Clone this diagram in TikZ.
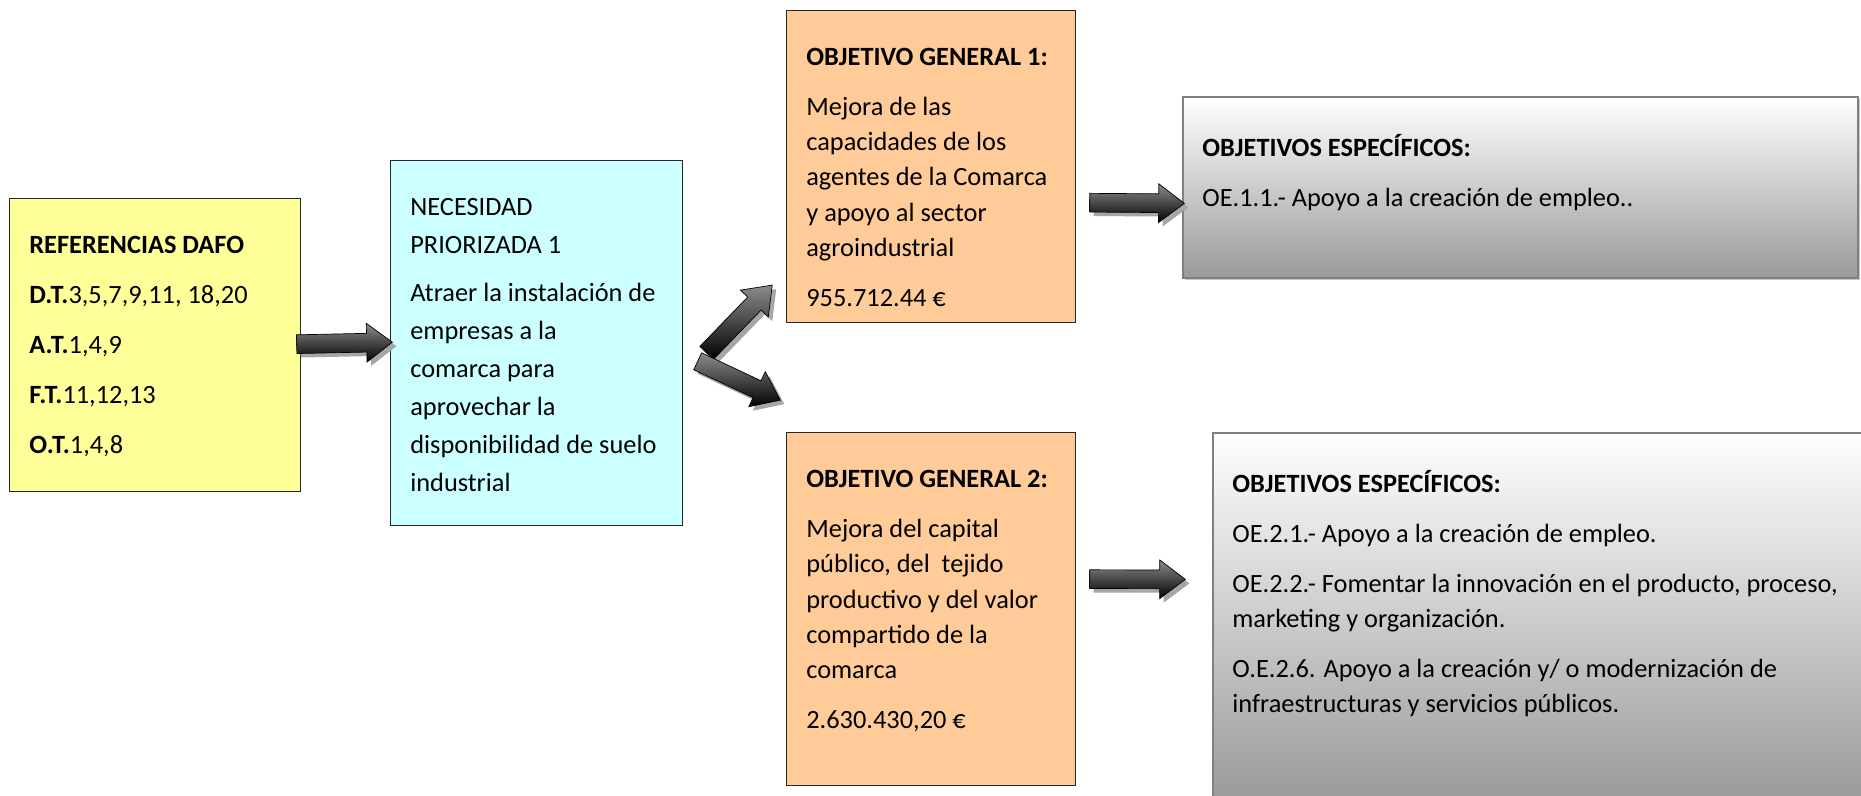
\documentclass[tikz,border=0pt]{standalone}
\usepackage{fontspec}
\setmainfont{Carlito}
\usetikzlibrary{calc,positioning,shapes.arrows,shadows}
\definecolor{dafoyellow}{HTML}{FFFF99}
\definecolor{needcyan}{HTML}{CCFFFF}
\definecolor{goalorange}{HTML}{FFCC99}
\newcommand{\hd}[1]{{\bfseries #1}}
\tikzset{
  box/.style={draw=black!85, line width=0.8pt, anchor=north west, inner sep=0pt},
  specbox/.style={draw=black!50, line width=1pt, anchor=north west, inner sep=0pt, top color=white, bottom color=black!40,
    drop shadow={shadow xshift=0.05cm, shadow yshift=-0.05cm, fill=black!22, opacity=1}},
  txt/.style={anchor=north west, inner sep=0pt, align=left, font=\fontsize{15}{20}\selectfont},
  bigarrow/.style={single arrow, draw=black, line width=0.4pt, inner xsep=0pt, inner ysep=0.18cm, text height=0pt, text depth=0pt,
    minimum width=0pt, single arrow head extend=0.2cm, single arrow tip angle=74, single arrow head indent=0pt,
    top color=black!45, middle color=black!85, bottom color=black, anchor=tail,
    drop shadow={shadow xshift=0.08cm, shadow yshift=-0.08cm, fill=black!35, opacity=1}}}
\newcommand{\blockarrow}[3]{%
  \path let \p1=#2, \p2=#3, \n1={atan2(\y2-\y1,\x2-\x1)}, \n2={veclen(\x2-\x1,\y2-\y1)} in
    node[bigarrow, minimum height=\n2, rotate=\n1] (#1) at (\p1) {};}

\begin{document}
\begin{tikzpicture}[x=0.02cm, y=-0.02cm]
  \useasboundingbox (0,0) rectangle (1861,795);
  \clip (0,0) rectangle (1861,795);
  \node[box, fill=dafoyellow, minimum width=5.82cm, minimum height=5.86cm] (dafo) at (9,198) {};
  \node[box, fill=needcyan, minimum width=5.84cm, minimum height=7.3cm] (nec) at (390,160) {};
  \node[box, fill=goalorange, minimum width=5.78cm, minimum height=6.24cm] (og1) at (786,10) {};
  \node[box, fill=goalorange, minimum width=5.78cm, minimum height=7.06cm] (og2) at (786,432) {};
  \node[specbox, minimum width=13.5cm, minimum height=3.62cm] (oe1) at (1182,96) {};
  \node[specbox, minimum width=13.6cm, minimum height=7.46cm] (oe2) at (1212,432) {};

  \node[txt] (dafotxt) at ([shift={(20,38)}]dafo.north west) {\hd{REFERENCIAS DAFO}\\[8.5pt]
    \hd{D.T.}3,5,7,9,11, 18,20\\[8.5pt] \hd{A.T.}1,4,9\\[8.5pt] \hd{F.T.}11,12,13\\[8.5pt] \hd{O.T.}1,4,8};
  \node[txt, font=\fontsize{15}{21.6}\selectfont] (nectxt) at ([shift={(20,38)}]nec.north west) {NECESIDAD\\ PRIORIZADA 1\\[6pt]
    Atraer la instalación de\\ empresas a la\\ comarca para\\ aprovechar la\\ disponibilidad de suelo\\ industrial};
  \node[txt] (og1txt) at ([shift={(20,38)}]og1.north west) {\hd{OBJETIVO GENERAL 1:}\\[8.5pt]
    Mejora de las\\ capacidades de los\\ agentes de la Comarca\\ y apoyo al sector\\ agroindustrial\\[8.5pt] 955.712.44 €};
  \node[txt] (og2txt) at ([shift={(20,38)}]og2.north west) {\hd{OBJETIVO GENERAL 2:}\\[8.5pt]
    Mejora del capital\\ público, del~ tejido\\ productivo y del valor\\ compartido de la\\ comarca\\[8.5pt] 2.630.430,20 €};
  \node[txt] (oe1txt) at ([shift={(20,38)}]oe1.north west) {\hd{OBJETIVOS ESPECÍFICOS:}\\[8.5pt]
    OE.1.1.- Apoyo a la creación de empleo..};
  \node[txt] (oe2txt) at ([shift={(20,38)}]oe2.north west) {\hd{OBJETIVOS ESPECÍFICOS:}\\[8.5pt]
    OE.2.1.- Apoyo a la creación de empleo.\\[8.5pt]
    OE.2.2.- Fomentar la innovación en el producto, proceso,\\ marketing y organización.\\[8.5pt]
    O.E.2.6. Apoyo a la creación y/ o modernización de\\ infraestructuras y servicios públicos.};

  \blockarrow{a1}{($(dafo.east)+(-5,-1)$)}{($(nec.west)+(2,-1)$)}
  \blockarrow{a2}{($(nec.east)+(23,10)$)}{($(og1.south west)+(-14,-38)$)}
  \blockarrow{a3}{($(nec.east)+(14,18)$)}{($(og2.north west)+(-6,-32)$)}
  \blockarrow{a4}{($(og1.east)+(13,36)$)}{($(oe1.west)+(2,16)$)}
  \blockarrow{a5}{($(og2.east)+(13,-30)$)}{($(oe2.west)+(-27,-40)$)}
\end{tikzpicture}
\end{document}
